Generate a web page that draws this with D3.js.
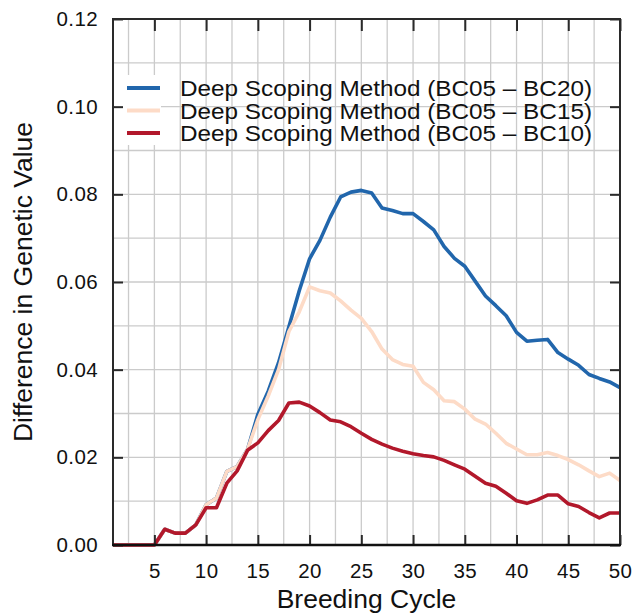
<!DOCTYPE html>
<html>
<head>
<meta charset="utf-8">
<script src="https://cdn.jsdelivr.net/npm/d3@7"></script>
<style>
  body { margin: 0; background: #fff; }
  svg { display: block; font-family: "Liberation Sans", Arial, Helvetica, sans-serif; }
</style>
</head>
<body>
<svg></svg>
<script>
 // breeding cycles on the x axis
 let cycles = [1, 2, 3, 4, 5, 6, 7, 8, 9, 10,
               11, 12, 13, 14, 15, 16, 17, 18, 19, 20,
               21, 22, 23, 24, 25, 26, 27, 28, 29, 30,
               31, 32, 33, 34, 35, 36, 37, 38, 39, 40,
               41, 42, 43, 44, 45, 46, 47, 48, 49, 50];

 // values
 let bc20 = [0, 0, 0, 0, 0, 0.0036, 0.0027, 0.0027, 0.0046, 0.0092,
             0.0107, 0.0168, 0.0179, 0.0218, 0.0298, 0.0351, 0.0416, 0.0498, 0.0580, 0.0653,
             0.0695, 0.0748, 0.0794, 0.0805, 0.0809, 0.0803, 0.0769, 0.0763, 0.0756, 0.0756,
             0.0738, 0.0719, 0.0681, 0.0654, 0.0636, 0.0602, 0.0568, 0.0546, 0.0523, 0.0485,
             0.0465, 0.0467, 0.0469, 0.0439, 0.0424, 0.0410, 0.0389, 0.0380, 0.0372, 0.0359];

 let bc15 = [0, 0, 0, 0, 0, 0.0036, 0.0027, 0.0027, 0.0046, 0.0092,
             0.0107, 0.0168, 0.0179, 0.0218, 0.0286, 0.0340, 0.0400, 0.0487, 0.0532, 0.0589,
             0.0580, 0.0575, 0.0557, 0.0536, 0.0517, 0.0487, 0.0447, 0.0423, 0.0412, 0.0408,
             0.0371, 0.0354, 0.0329, 0.0327, 0.0310, 0.0287, 0.0276, 0.0255, 0.0232, 0.0219,
             0.0206, 0.0206, 0.0211, 0.0204, 0.0195, 0.0183, 0.0169, 0.0156, 0.0164, 0.0147];

 let bc10 = [0, 0, 0, 0, 0, 0.0036, 0.0027, 0.0027, 0.0046, 0.0085,
             0.0085, 0.0141, 0.0169, 0.0216, 0.0233, 0.0261, 0.0284, 0.0324, 0.0326, 0.0317,
             0.0302, 0.0285, 0.0281, 0.0270, 0.0255, 0.0241, 0.0230, 0.0221, 0.0214, 0.0208,
             0.0204, 0.0201, 0.0193, 0.0183, 0.0173, 0.0157, 0.0141, 0.0134, 0.0118, 0.0101,
             0.0095, 0.0103, 0.0114, 0.0114, 0.0094, 0.0088, 0.0074, 0.0062, 0.0073, 0.0073];

 let seriesNames = ['Deep Scoping Method (BC05 \u2013 BC20)',
                    'Deep Scoping Method (BC05 \u2013 BC15)',
                    'Deep Scoping Method (BC05 \u2013 BC10)'];
 let seriesColors = ['#2166ac', '#fddbc7', '#b2182b'];

 let xTicks = [5, 10, 15, 20, 25, 30, 35, 40, 45, 50];
 let yTicks = [0, 0.02, 0.04, 0.06, 0.08, 0.10, 0.12];

 let width = 634;
 let height = 615;
 let plotLeft = 113, plotRight = 620, plotTop = 19, plotBottom = 545;

 let svg = d3.select('svg')
             .attr('width', width)
             .attr('height', height);

 let xScale = d3.scaleLinear().domain([1, 50]).range([plotLeft, plotRight]);
 let yScale = d3.scaleLinear().domain([0, 0.12]).range([plotBottom, plotTop]);

 // grid
 let grid = svg.append('g').attr('stroke', '#cbcbcb').attr('stroke-width', 1.3);
 grid.selectAll('.vg')
     .data(d3.range(2.5, 50, 2.5))
     .enter().append('line')
     .attr('x1', d => xScale(d)).attr('x2', d => xScale(d))
     .attr('y1', plotTop).attr('y2', plotBottom);
 grid.selectAll('.hg')
     .data(d3.range(0.01, 0.12, 0.01))
     .enter().append('line')
     .attr('x1', plotLeft).attr('x2', plotRight)
     .attr('y1', d => yScale(d)).attr('y2', d => yScale(d));

 // white box behind the legend keys
 svg.append('rect')
    .attr('x', 115).attr('y', 75)
    .attr('width', 46).attr('height', 70)
    .attr('fill', '#fff');

 // lines
 let line = d3.line()
              .x((d, i) => xScale(cycles[i]))
              .y(d => yScale(d));

 [bc20, bc15, bc10].forEach((values, i) => {
  svg.append('path')
     .datum(values)
     .attr('d', line)
     .attr('fill', 'none')
     .attr('stroke', seriesColors[i])
     .attr('stroke-width', 3.6)
     .attr('stroke-linejoin', 'round');
 });

 // axes, ticks pointing inward on all sides
 let axisStyle = g => {
  g.select('.domain').remove();
  g.selectAll('line').attr('stroke', '#2a2a2a').attr('stroke-width', 2);
  g.selectAll('text').attr('fill', '#111').style('font-size', '20.5px')
   .style('letter-spacing', '0.4px')
   .style('font-family', '"Liberation Sans", Arial, Helvetica, sans-serif');
 };

 svg.append('g')
    .attr('transform', `translate(${plotLeft}, 0)`)
    .call(d3.axisLeft(yScale).tickValues(yTicks).tickFormat(d3.format('.2f'))
            .tickSizeInner(-10).tickSizeOuter(0).tickPadding(15))
    .call(axisStyle);

 svg.append('g')
    .attr('transform', `translate(${plotRight}, 0)`)
    .call(d3.axisRight(yScale).tickValues(yTicks).tickFormat('')
            .tickSizeInner(-10).tickSizeOuter(0))
    .call(axisStyle);

 svg.append('g')
    .attr('transform', `translate(0, ${plotBottom})`)
    .call(d3.axisBottom(xScale).tickValues(xTicks).tickFormat(d3.format('d'))
            .tickSizeInner(-10).tickSizeOuter(0).tickPadding(18))
    .call(axisStyle);

 svg.append('g')
    .attr('transform', `translate(0, ${plotTop})`)
    .call(d3.axisTop(xScale).tickValues(xTicks).tickFormat('')
            .tickSizeInner(-12).tickSizeOuter(0))
    .call(axisStyle);

 // frame
 svg.append('rect')
    .attr('x', plotLeft).attr('y', plotTop)
    .attr('width', plotRight - plotLeft).attr('height', plotBottom - plotTop)
    .attr('fill', 'none')
    .attr('stroke', '#2a2a2a')
    .attr('stroke-width', 2);
 svg.append('line')
    .attr('x1', plotLeft - 1).attr('x2', plotRight + 1)
    .attr('y1', plotBottom).attr('y2', plotBottom)
    .attr('stroke', '#111').attr('stroke-width', 2.5);

 // axis titles
 svg.append('text')
    .attr('x', (plotLeft + plotRight) / 2)
    .attr('y', 608)
    .attr('text-anchor', 'middle')
    .style('font-size', '26.5px')
    .attr('fill', '#111')
    .text('Breeding Cycle');

 svg.append('text')
    .attr('transform', `translate(32, ${(plotTop + plotBottom) / 2}) rotate(-90)`)
    .attr('text-anchor', 'middle')
    .style('font-size', '26.5px')
    .attr('fill', '#111')
    .text('Difference in Genetic Value');

 // legend, rows set close together as in the original
 let legendY = [88, 110.5, 133];
 seriesNames.forEach((name, i) => {
  svg.append('line')
     .attr('x1', 127).attr('x2', 160)
     .attr('y1', legendY[i]).attr('y2', legendY[i])
     .attr('stroke', seriesColors[i])
     .attr('stroke-width', 4);
  svg.append('text')
     .attr('x', 180)
     .attr('y', legendY[i] + 8)
     .style('font-size', '21.5px')
     .attr('fill', '#111')
     .attr('textLength', 412)
     .attr('lengthAdjust', 'spacingAndGlyphs')
     .text(name);
 });
</script>
</body>
</html>
